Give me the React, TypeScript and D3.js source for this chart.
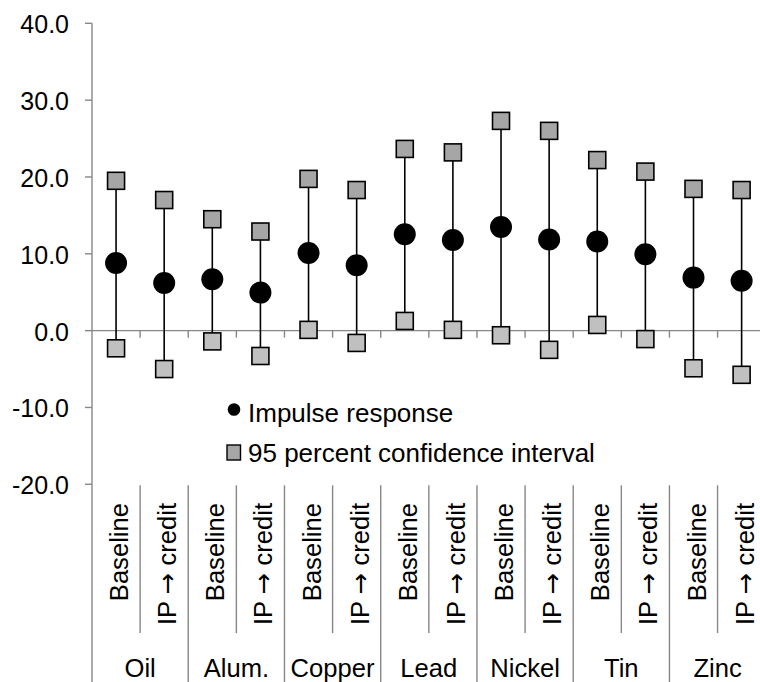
import React from "react";
import * as d3 from "d3";

const groups = ["Oil", "Alum.", "Copper", "Lead", "Nickel", "Tin", "Zinc"];
const variants = ["Baseline", "IP \u2192 credit"];

// Impulse response (point estimate)
const irBaseline = [8.8, 6.7, 10.1, 12.55, 13.5, 11.6, 6.9];
const irCredit = [6.2, 4.95, 8.5, 11.8, 11.85, 9.95, 6.5];
// 95 percent confidence interval bounds
const upperBaseline = [19.5, 14.5, 19.75, 23.65, 27.3, 22.2, 18.45];
const upperCredit = [17.0, 12.9, 18.3, 23.2, 26.0, 20.7, 18.3];
const lowerBaseline = [-2.3, -1.4, 0.1, 1.26, -0.6, 0.74, -4.9];
const lowerCredit = [-5.0, -3.3, -1.6, 0.1, -2.5, -1.1, -5.75];

const yTicks = [40, 30, 20, 10, 0, -10, -20];

const W = 760;
const H = 682;
const FONT = "'Liberation Sans', Arial, sans-serif";
const AXIS = "#878787";

type Row = { key: string; group: string; variant: string; ir: number; lo: number; hi: number };

const rows: Row[] = [];
groups.forEach((g, i) => {
  rows.push({ key: g + "|0", group: g, variant: variants[0], ir: irBaseline[i], lo: lowerBaseline[i], hi: upperBaseline[i] });
  rows.push({ key: g + "|1", group: g, variant: variants[1], ir: irCredit[i], lo: lowerCredit[i], hi: upperCredit[i] });
});

const fmt = (v: number) => d3.format(".1f")(v).replace("\u2212", "-");

function Label({ text }: { text: string }) {
  const parts = text.split("\u2192");
  if (parts.length === 1) return <>{text}</>;
  return (
    <>
      {parts[0]}
      <tspan fontFamily="'DejaVu Sans', sans-serif">{"\u2192"}</tspan>
      {parts[1]}
    </>
  );
}

export default function App() {
  const x0 = 92;
  const band = 48.12;
  const x = d3
    .scaleBand<string>()
    .domain(rows.map((r) => r.key))
    .range([x0, x0 + band * rows.length])
    .padding(0);
  const y = d3.scaleLinear().domain([-20, 40]).range([484.3, 23.3]);
  const bw = x.bandwidth();
  const y0 = y(0);
  const yBottom = y(-20);
  const sq = 17;

  return (
    <svg
      width={W}
      height={H}
      style={{ position: "absolute", left: 0, top: 0, display: "block", background: "#fff" }}
      fontFamily={FONT}
    >
      {/* y axis */}
      <line x1={x0} x2={x0} y1={y(40)} y2={H} stroke={AXIS} strokeWidth={1.4} />
      {yTicks.map((t) => (
        <g key={t}>
          <line x1={x0 - 7} x2={x0} y1={y(t)} y2={y(t)} stroke={AXIS} strokeWidth={1.4} />
          <text x={69} y={y(t)} dy={10} textAnchor="end" fontSize={25} fill="#000">
            {fmt(t)}
          </text>
        </g>
      ))}

      {/* zero line with ticks */}
      <line x1={x0} x2={W} y1={y0} y2={y0} stroke={AXIS} strokeWidth={1.4} />
      {rows.slice(1).map((r) => (
        <line key={"t" + r.key} x1={x(r.key)!} x2={x(r.key)!} y1={y0} y2={y0 + 7} stroke={AXIS} strokeWidth={1.4} />
      ))}

      {/* category separators */}
      {rows.slice(1).map((r, i) => {
        const isGroup = (i + 1) % 2 === 0;
        return (
          <line
            key={"s" + r.key}
            x1={x(r.key)!}
            x2={x(r.key)!}
            y1={yBottom + 1}
            y2={isGroup ? H : 633}
            stroke={AXIS}
            strokeWidth={1.4}
          />
        );
      })}

      {/* sub labels */}
      {rows.map((r) => {
        const cx = x(r.key)! + bw / 2;
        return (
          <text
            key={"l" + r.key}
            transform={`translate(${cx},503) rotate(-90)`}
            dy={12}
            textAnchor="end"
            fontSize={25.6}
            fill="#000"
          >
            <Label text={r.variant} />
          </text>
        );
      })}

      {/* group labels */}
      {groups.map((g) => {
        const cx = x(g + "|1")!;
        return (
          <text key={"g" + g} x={cx} y={677} textAnchor="middle" fontSize={25.6} fill="#000">
            {g}
          </text>
        );
      })}

      {/* whiskers */}
      {rows.map((r) => {
        const cx = x(r.key)! + bw / 2;
        return <line key={"w" + r.key} x1={cx} x2={cx} y1={y(r.lo)} y2={y(r.hi)} stroke="#000" strokeWidth={1.6} />;
      })}

      {/* markers */}
      {rows.map((r) => {
        const cx = x(r.key)! + bw / 2;
        return (
          <g key={"m" + r.key}>
            <rect x={cx - sq / 2} y={y(r.hi) - sq / 2} width={sq} height={sq} fill="#a6a6a6" stroke="#000" strokeWidth={1.6} />
            <rect x={cx - sq / 2} y={y(r.lo) - sq / 2} width={sq} height={sq} fill="#c0c0c0" stroke="#000" strokeWidth={1.6} />
            <circle cx={cx} cy={y(r.ir)} r={11} fill="#000" />
          </g>
        );
      })}

      {/* legend */}
      <circle cx={234} cy={409.5} r={6.3} fill="#000" />
      <text x={248} y={421.7} fontSize={26} fill="#000">
        Impulse response
      </text>
      <rect x={227} y={445} width={13.5} height={15} fill="#a6a6a6" stroke="#000" strokeWidth={1.4} />
      <text x={248} y={461.5} fontSize={26} fill="#000">
        95 percent confidence interval
      </text>
    </svg>
  );
}
